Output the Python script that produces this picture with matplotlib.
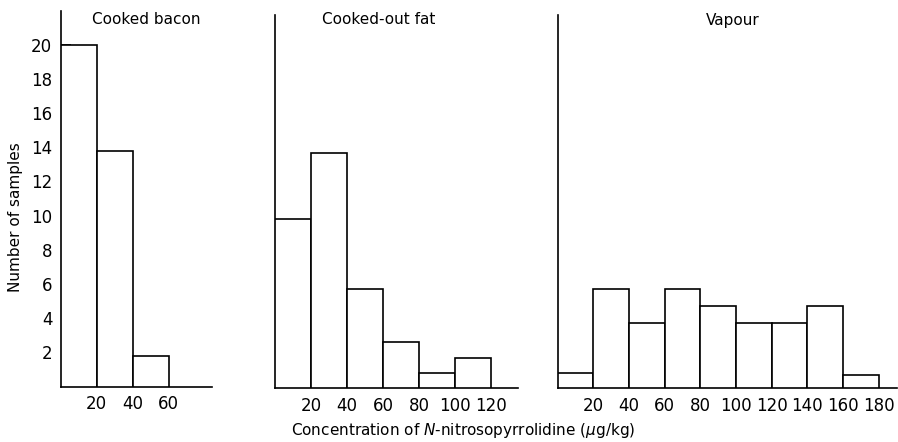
import matplotlib
matplotlib.use("Agg")
import matplotlib.pyplot as plt

plt.rcParams['font.family'] = ['DejaVu Sans']

# bin edges are 20 ug/kg wide, starting at 0
bin_width = 20
bacon_counts = [20, 13.8, 1.8]
fat_counts = [9.9, 13.8, 5.8, 2.7, 0.9, 1.8]
vapour_counts = [0.9, 5.8, 3.8, 5.8, 4.8, 3.8, 3.8, 4.8, 0.8]

panel_titles = ["Cooked bacon", "Cooked-out fat", "Vapour"]
bacon_xticks = [20, 40, 60]
fat_xticks = [20, 40, 60, 80, 100, 120]
vapour_xticks = [20, 40, 60, 80, 100, 120, 140, 160, 180]
yticks = [2, 4, 6, 8, 10, 12, 14, 16, 18, 20]

W, H = 898, 442
fig = plt.figure(figsize=(W / 100, H / 100), dpi=100)


def px_axes(left, bottom, right, top):
    """ axes from pixel coords (top-left origin) """
    return fig.add_axes([left / W, 1 - bottom / H, (right - left) / W, (bottom - top) / H])


ax1 = px_axes(60.7, 386.5, 211.9, 10.5)
ax2 = px_axes(275, 388.3, 518, 15)
ax3 = px_axes(557.5, 388.3, 896.7, 15)

panels = [
    (ax1, bacon_counts, bacon_xticks, 84),
    (ax2, fat_counts, fat_xticks, 135),
    (ax3, vapour_counts, vapour_xticks, 190),
]
# title centres in pixels
title_x = [146, 378.7, 732.5]

lw = 1.2
for (ax, counts, xt, xmax), title, tx in zip(panels, panel_titles, title_x):
    lefts = [i * bin_width for i in range(len(counts))]
    ax.bar(lefts, counts, width=bin_width, align='edge', color='white',
           edgecolor='black', linewidth=lw, zorder=3)
    ax.set_xlim(0, xmax)
    ax.set_ylim(0, 22 if ax is ax1 else 21.85)
    for s in ['top', 'right']:
        ax.spines[s].set_visible(False)
    for s in ['left', 'bottom']:
        ax.spines[s].set_linewidth(lw)
    ax.set_xticks(xt)
    ax.set_xticklabels([str(v) for v in xt], fontsize=12)
    ax.tick_params(axis='x', length=0, pad=6)
    fig.text(tx / W, 1 - 20 / H, title, ha='center', va='center', fontsize=11)

ax1.set_yticks(yticks)
ax1.set_yticklabels([str(v) for v in yticks], fontsize=12)
ax1.tick_params(axis='y', direction='in', length=7, width=lw, pad=6)
for ax in (ax2, ax3):
    ax.set_yticks([])

fig.text(16 / W, 1 - 217 / H, "Number of samples", rotation=90,
         ha='center', va='center', fontsize=11)
fig.text(463 / W, 1 - 431 / H,
         r"Concentration of $\mathit{N}$-nitrosopyrrolidine ($\mu$g/kg)",
         ha='center', va='center', fontsize=11)

fig.savefig("out.png", dpi=100, facecolor='white')
